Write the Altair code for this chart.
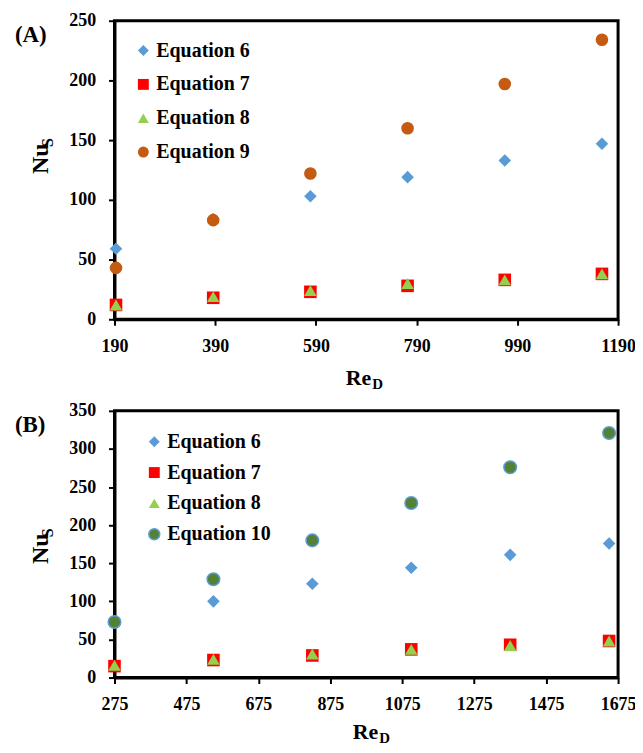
import altair as alt
import pandas as pd

# ---------------- data ----------------
series_a = ["Equation 6", "Equation 7", "Equation 8", "Equation 9"]
re_a = [193, 386, 579, 772, 965, 1158]
eq6_a = [59, 84, 103, 119, 133, 147]
eq7_a = [12, 18, 23, 28, 33, 38]
eq8_a = [12, 19, 24, 30, 33, 38]
eq9_a = [43, 83, 122, 160, 197, 234]

series_b = ["Equation 6", "Equation 7", "Equation 8", "Equation 10"]
re_b = [275, 550, 825, 1100, 1375, 1650]
eq6_b = [72, 100, 123, 144, 161, 176]
eq7_b = [15, 23, 29, 37, 43, 48]
eq8_b = [16, 24, 31, 37, 42, 48]
eq10_b = [73, 129, 180, 229, 276, 321]

xticks_a = [190, 390, 590, 790, 990, 1190]
yticks_a = [0, 50, 100, 150, 200, 250]
xticks_b = [275, 475, 675, 875, 1075, 1275, 1475, 1675]
yticks_b = [0, 50, 100, 150, 200, 250, 300, 350]

panel_labels = ["(A)", "(B)"]
x_title = ["Re", "D"]
y_title = ["Nu", "S"]

colors_a = ["#5B9BD5", "#FF0000", "#92D050", "#C55A11"]
colors_b = ["#5B9BD5", "#FF0000", "#92D050", "#548235"]
shapes = ["diamond", "square", "triangle-up", "circle"]
strokes_a = ["transparent", "transparent", "transparent", "transparent"]
strokes_b = ["transparent", "transparent", "transparent", "#5B9BD5"]

FONT = "Liberation Serif"
W = 506


def make_df(re, cols, names):
    rows = []
    for name, vals in zip(names, cols):
        for r, v in zip(re, vals):
            rows.append({"Re": r, "Nu": v, "series": name})
    return pd.DataFrame(rows)


def txt(s, x, y, size, align="left", baseline="middle", angle=0):
    kw = dict(font=FONT, fontWeight="bold", fontSize=size, color="black",
              align=align, baseline=baseline)
    if angle:
        kw["angle"] = angle
    return alt.Chart(pd.DataFrame({"t": [s]})).mark_text(**kw).encode(
        text="t:N", x=alt.value(x), y=alt.value(y))


def panel(df, series, colors, strokes, xdom, xticks, ydom, yticks, H,
          label, lx, ly, rowpad, re_x, re_y):
    leg = alt.Legend(title=None, orient="none", legendX=lx, legendY=ly,
                     padding=0, rowPadding=rowpad, labelFont=FONT,
                     labelFontWeight="bold", labelFontSize=20,
                     labelColor="black", symbolSize=120, labelOffset=3,
                     symbolStrokeWidth=1.5)
    pts = alt.Chart(df).mark_point(filled=True, size=160, opacity=1,
                                   strokeWidth=1.5).encode(
        x=alt.X("Re:Q", scale=alt.Scale(domain=xdom, nice=False, zero=False),
                axis=alt.Axis(values=xticks, title=None, format="d",
                              labelFlush=False)),
        y=alt.Y("Nu:Q", scale=alt.Scale(domain=ydom, nice=False),
                axis=alt.Axis(values=yticks, title=None, format="d",
                              labelFlush=False)),
        color=alt.Color("series:N", sort=series,
                        scale=alt.Scale(domain=series, range=colors), legend=leg),
        shape=alt.Shape("series:N", sort=series,
                        scale=alt.Scale(domain=series, range=shapes), legend=leg),
        stroke=alt.Stroke("series:N", sort=series,
                          scale=alt.Scale(domain=series, range=strokes), legend=leg),
    )
    layers = [
        pts,
        txt(label, -100, 14, 23),
        txt(x_title[0], re_x, H + re_y, 22, align="right"),
        txt(x_title[1], re_x + 1, H + re_y + 6, 15, align="left"),
        txt(y_title[0], -67, 154, 24, baseline="alphabetic", angle=270),
        txt(y_title[1], -62, 127, 16, baseline="alphabetic", angle=270),
    ]
    return alt.layer(*layers).properties(width=W, height=H)


df_a = make_df(re_a, [eq6_a, eq7_a, eq8_a, eq9_a], series_a)
df_b = make_df(re_b, [eq6_b, eq7_b, eq8_b, eq10_b], series_b)

pa = panel(df_a, series_a, colors_a, strokes_a, [190, 1190], xticks_a,
           [0, 250], yticks_a, 300, panel_labels[0], 19, 20, 14, 258, 59)
pb = panel(df_b, series_b, colors_b, strokes_b, [275, 1675], xticks_b,
           [0, 350], yticks_b, 268, panel_labels[1], 30, 21, 11, 265, 55)

chart = alt.vconcat(pa, pb, spacing=92, bounds="flush").resolve_scale(
    color="independent", shape="independent", stroke="independent",
    x="independent", y="independent"
).properties(
    padding={"left": 5, "top": 0, "right": -3, "bottom": -5}
).configure_view(
    stroke="black", strokeWidth=3
).configure_axis(
    grid=False, domainColor="black", domainWidth=3, tickColor="black",
    tickWidth=2, tickSize=6, labelFont=FONT, labelFontWeight="bold",
    labelFontSize=18, labelColor="black", labelPadding=12
).configure_axisY(labelPadding=13)

chart.save("out.html", embed_options={"renderer": "svg", "actions": False})
